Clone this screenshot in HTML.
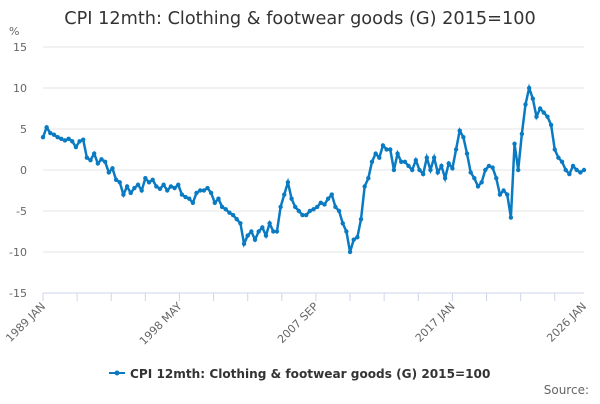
<!DOCTYPE html>
<html><head><meta charset="utf-8"><style>
body{margin:0;background:#fff;font-family:"DejaVu Sans",sans-serif;}
svg text{font-family:"DejaVu Sans",sans-serif;}
</style></head><body>
<svg width="600" height="400">
<text x="300" y="24" text-anchor="middle" font-size="17.7" fill="#333">CPI 12mth: Clothing &amp; footwear goods (G) 2015=100</text>
<text x="9" y="35" font-size="11" fill="#666">%</text>
<g id="grid"></g><g id="xaxis"></g><g id="series"></g>
<g>
<line x1="109" y1="373" x2="125" y2="373" stroke="#0a7bc2" stroke-width="2"/>
<circle cx="117" cy="373" r="2.5" fill="#0a7bc2"/>
<text x="130" y="378" font-size="12.1" font-weight="bold" fill="#333">CPI 12mth: Clothing &amp; footwear goods (G) 2015=100</text>
</g>
<text x="589" y="394" text-anchor="end" font-size="12" fill="#666">Source:</text>
</svg>
<script>
const yTicks=[15,10,5,0,-5,-10,-15];
const xTickLabels=["1989 JAN","1998 MAY","2007 SEP","2017 JAN","2026 JAN"];
const xTickMonths=[0,112,224,336,444];
const startYear=1989;
const values=[
4,5.2,4.5,4.3, 4,3.8,3.6,3.8, 3.5,2.8,3.5,3.7, 1.5,1.2,2,0.8, 1.3,1,-0.3,0.2,
-1.2,-1.5,-3,-2, -2.8,-2.2,-1.8,-2.5, -1,-1.5,-1.2,-2, -2.3,-1.8,-2.5,-2, -2.2,-1.8,-3,-3.3,
-3.5,-4,-2.8,-2.5, -2.5,-2.2,-2.8,-4, -3.5,-4.5,-4.8,-5.2, -5.5,-6,-6.5,-9, -8,-7.5,-8.5,-7.5,
-7,-8,-6.5,-7.5, -7.5,-4.5,-3,-1.5, -3.5,-4.5,-5,-5.5, -5.5,-5,-4.8,-4.5, -4,-4.2,-3.5,-3,
-4.5,-5,-6.5,-7.5, -10,-8.5,-8.2,-6, -2,-1,1,2, 1.5,3,2.5,2.5, 0,2,1,1,
0.5,0,1.2,0, -0.5,1.5,0,1.5, -0.3,0.5,-1,0.8, 0.2,2.5,4.8,4, 2,-0.3,-1,-2,
-1.5,0,0.5,0.3, -1,-3,-2.5,-3, -5.8,3.2,0,4.4, 8,10,8.7,6.5, 7.5,7,6.5,5.5,
2.5,1.5,1,0, -0.5,0.5,0,-0.3, 0];
const NS="http://www.w3.org/2000/svg";
const x0=43,x1=584,yTop=47,yBot=293;
function xs(m){return x0+(x1-x0)*m/444;}
function ys(v){return yBot-(v+15)/30*(yBot-yTop);}
const grid=document.getElementById('grid');
yTicks.forEach(t=>{
 const l=document.createElementNS(NS,'line');
 
 
 l.setAttribute('x1',x0);l.setAttribute('x2',x1);l.setAttribute('y1',ys(t));l.setAttribute('y2',ys(t));
 l.setAttribute('stroke',t===-15?'#ccd6eb':'#e6e6e6');grid.appendChild(l);
 const tx=document.createElementNS(NS,'text');
 
 
 tx.setAttribute('x',27);tx.setAttribute('y',ys(t)+4);tx.setAttribute('text-anchor','end');
 tx.setAttribute('font-size','11');tx.setAttribute('fill','#666');tx.textContent=t;grid.appendChild(tx);
});
const xa=document.getElementById('xaxis');
for(let m=0;m<=444;m+=28){
 const l=document.createElementNS(NS,'line');
 
 
 l.setAttribute('x1',xs(m));l.setAttribute('x2',xs(m));l.setAttribute('y1',yBot);l.setAttribute('y2',yBot+8);
 l.setAttribute('stroke','#ccd6eb');xa.appendChild(l);
}
xTickLabels.forEach((s,i)=>{
 const x=xs(xTickMonths[i]);
 const tx=document.createElementNS(NS,'text');
 
 
 tx.setAttribute('x',x+3);tx.setAttribute('y',yBot+14);tx.setAttribute('text-anchor','end');
 tx.setAttribute('transform','rotate(-45 '+(x+3)+' '+(yBot+14)+')');
 tx.setAttribute('font-size','11');tx.setAttribute('fill','#666');tx.textContent=s;xa.appendChild(tx);
});
const se=document.getElementById('series');
const pts=values.map((v,i)=>[xs(Math.min(i*3,444)),ys(v)]);
const pl=document.createElementNS(NS,'polyline');


pl.setAttribute('points',pts.map(p=>p.join(',')).join(' '));
pl.setAttribute('fill','none');pl.setAttribute('stroke','#0a7bc2');pl.setAttribute('stroke-width','2.5');
se.appendChild(pl);
pts.forEach(p=>{
 const c=document.createElementNS(NS,'circle');
 
 
 c.setAttribute('cx',p[0]);c.setAttribute('cy',p[1]);c.setAttribute('r','2.2');c.setAttribute('fill','#0a7bc2');
 se.appendChild(c);
});
</script>
</body></html>
